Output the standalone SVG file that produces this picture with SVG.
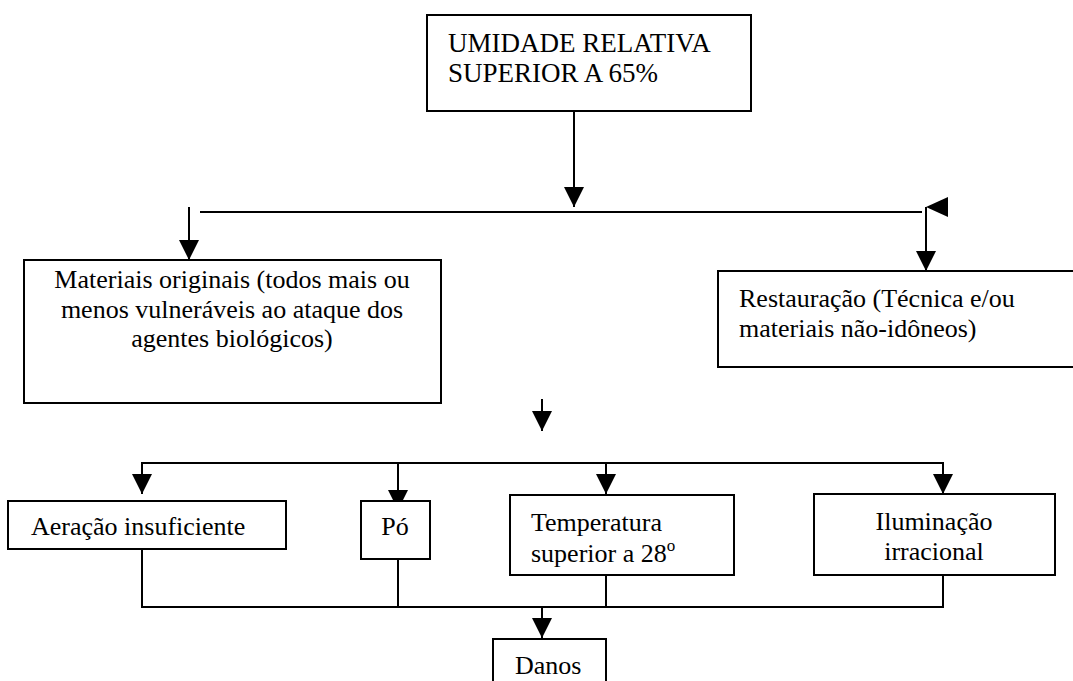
<svg xmlns="http://www.w3.org/2000/svg" width="1073" height="681" viewBox="0 0 1073 681">
<style>
.box{fill:#fff;stroke:#000;stroke-width:2}
.ln{fill:none;stroke:#000;stroke-width:2}
.ar{fill:none;stroke:#000;stroke-width:2;marker-end:url(#ah)}
.t{font-family:'Liberation Serif','DejaVu Serif',serif;font-size:26px;fill:#000}
.big{font-size:27px}
.c{text-anchor:middle}
</style>
<defs>
<marker id="ah" markerUnits="userSpaceOnUse" markerWidth="20" markerHeight="20" refX="20" refY="10" orient="auto" viewBox="0 0 20 20">
<path d="M0,0 L20,10 L0,20 z" fill="#000"/>
</marker>
</defs>
<rect width="1073" height="681" fill="#fff"/>
<g id="connectors">
<path class="ar" d="M574,111 V207"/>
<path class="ln" d="M200,212 H922"/>
<path class="ar" d="M189,207 V260"/>
<polygon points="926,207 948,197 948,217" fill="#000"/>
<path class="ar" d="M926,207 V271"/>
<path class="ar" d="M542,399 V431"/>
<path class="ln" d="M142,494 V463 H943 V494"/>
<path class="ar" d="M142,463 V494"/>
<path class="ar" d="M398,463 V510"/>
<path class="ar" d="M606,463 V494"/>
<path class="ar" d="M943,463 V494"/>
<path class="ln" d="M142,543 V607 H943 V575"/>
<path class="ln" d="M398,559 V607"/>
<path class="ln" d="M606,575 V607"/>
<path class="ar" d="M542,607 V638"/>
</g>
<g id="n-umidade">
<rect class="box" x="427" y="15" width="324" height="96"/>
<text class="t big" x="448" y="52">UMIDADE RELATIVA</text>
<text class="t big" x="448" y="82">SUPERIOR A 65%</text>
</g>
<g id="n-materiais">
<rect class="box" x="24" y="260" width="417" height="143"/>
<text class="t c" x="232" y="288">Materiais originais (todos mais ou</text>
<text class="t c" x="232" y="318">menos vulneráveis ao ataque dos</text>
<text class="t c" x="232" y="347">agentes biológicos)</text>
</g>
<g id="n-restauracao">
<rect class="box" x="718" y="271" width="370" height="96"/>
<text class="t" x="739" y="307">Restauração (Técnica e/ou</text>
<text class="t" x="739" y="337">materiais não-idôneos)</text>
</g>
<g id="n-aeracao">
<rect class="box" x="8" y="501" width="278" height="48"/>
<text class="t" x="31" y="535">Aeração insuficiente</text>
</g>
<g id="n-po">
<rect class="box" x="361" y="501" width="69" height="58"/>
<text class="t c" x="395" y="535">Pó</text>
</g>
<g id="n-temperatura">
<rect class="box" x="510" y="495" width="224" height="80"/>
<text class="t" x="531" y="531">Temperatura</text>
<text class="t" x="531" y="562">superior a 28<tspan font-size="17" dy="-11">o</tspan></text>
</g>
<g id="n-iluminacao">
<rect class="box" x="814" y="494" width="241" height="81"/>
<text class="t c" x="934" y="530">Iluminação</text>
<text class="t c" x="934" y="560">irracional</text>
</g>
<g id="n-danos">
<rect class="box" x="493" y="639" width="113" height="60"/>
<text class="t" x="515" y="674">Danos</text>
</g>
</svg>
